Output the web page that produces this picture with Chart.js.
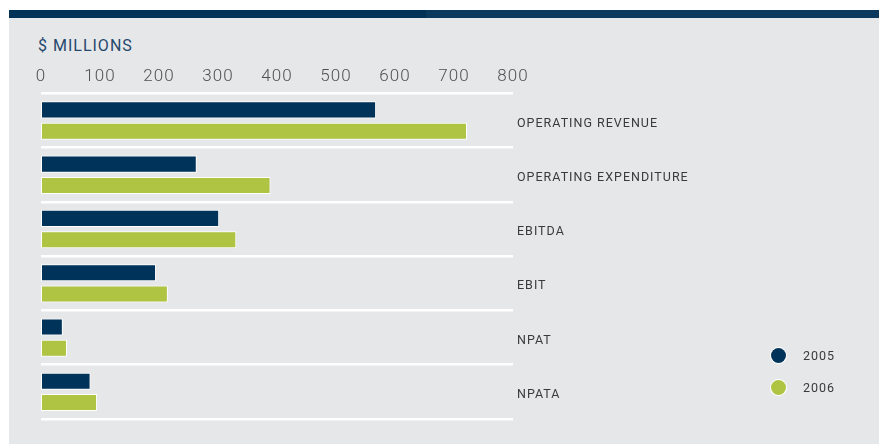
<!DOCTYPE html>
<html>
<head>
<meta charset="utf-8">
<script src="https://cdn.jsdelivr.net/npm/chart.js@4/dist/chart.umd.min.js"></script>
<style>
	html, body { margin: 0; padding: 0; background: #fff; }
	body { width: 879px; height: 444px; position: relative; overflow: hidden; font-family: Roboto, "Noto Sans", sans-serif; }
	#panel { position: absolute; left: 9px; top: 18px; right: 0; bottom: 0; background: #e6e7e9; }
	#band { position: absolute; left: 9px; top: 10px; right: 0; height: 9px; background: linear-gradient(to right, #003257 0, #003257 417px, #0a395d 417px); }
	#title { position: absolute; left: 38px; top: 38px; font-size: 16px; line-height: 16px; letter-spacing: 1px; color: #24486c; }
	#chartBox { position: absolute; left: 0; top: 0; width: 879px; height: 444px; }
	#legend { position: absolute; left: 771px; top: 346px; }
	.item { position: relative; height: 32px; }
	.dot { position: absolute; left: 0; top: 2px; width: 15px; height: 15px; border-radius: 50%; box-shadow: 0 0 0 1px #fff; }
	.lbl { position: absolute; left: 32px; top: 2px; font-size: 12.5px; line-height: 15px; letter-spacing: 1px; color: #3a3a3a; }
</style>
</head>
<body>
<div id="band"></div>
<div id="panel"></div>
<div id="title">$ MILLIONS</div>
<div id="chartBox"><canvas id="myChart" width="879" height="444"></canvas></div>
<div id="legend"></div>
<script>
var categories = ["OPERATING REVENUE", "OPERATING EXPENDITURE", "EBITDA", "EBIT", "NPAT", "NPATA"];
var values2005 = [568, 264, 302, 195, 37, 84];
var values2006 = [722, 389, 331, 215, 44, 95];
var seriesNames = ["2005", "2006"];
var barColors = ["#00335a", "#afc443"];
var tickMax = 800;
var tickStep = 100;

// spaced letters like the print version
var spacing = {
	id: "spacing",
	beforeDraw: function (chart) {
		chart.ctx.letterSpacing = "1px";
	}
};

var chart = new Chart("myChart", {
	type: "bar",
	data: {
		labels: categories,
		datasets: [
			{ label: seriesNames[0], data: values2005, backgroundColor: barColors[0] },
			{ label: seriesNames[1], data: values2006, backgroundColor: barColors[1] }
		]
	},
	options: {
		indexAxis: "y",
		responsive: false,
		animation: false,
		datasets: {
			bar: {
				borderColor: "#ffffff",
				borderWidth: 1,
				borderSkipped: false,
				categoryPercentage: 0.786,
				barPercentage: 0.8
			}
		},
		layout: { padding: { left: 41, top: 61, right: 0, bottom: 25 } },
		plugins: {
			legend: { display: false },
			tooltip: { enabled: false }
		},
		scales: {
			x: {
				position: "top",
				min: 0,
				max: tickMax,
				ticks: {
					stepSize: tickStep,
					padding: 6,
					color: "#505050",
					font: { family: "Roboto", size: 17, weight: 300 }
				},
				grid: { display: false, drawTicks: false },
				border: { display: false }
			},
			y: {
				position: "right",
				offset: true,
				afterFit: function (scale) {
					scale.width = 366;
				},
				ticks: {
					padding: 4,
					labelOffset: 3,
					color: "#3a3a3a",
					font: { family: "Roboto", size: 12.5 }
				},
				grid: { offset: true, color: "#ffffff", lineWidth: 2.5, drawTicks: false },
				border: { display: false }
			}
		}
	},
	plugins: [spacing]
});

var legend = document.getElementById("legend");
chart.data.datasets.forEach(function (ds) {
	var item = document.createElement("div");
	item.className = "item";
	item.innerHTML = '<span class="dot" style="background:' + ds.backgroundColor + '"></span><span class="lbl">' + ds.label + "</span>";
	legend.appendChild(item);
});
</script>
</body>
</html>
